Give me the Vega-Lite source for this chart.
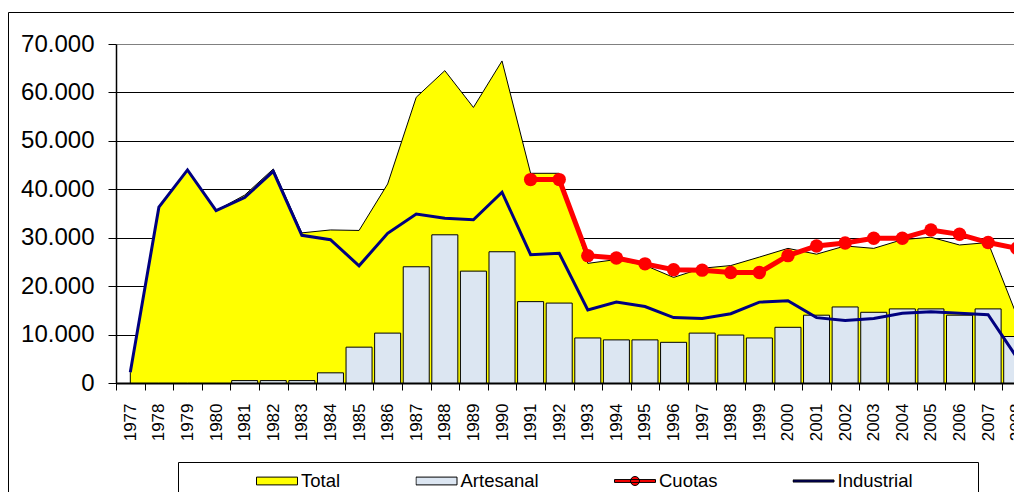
{
  "$schema": "https://vega.github.io/schema/vega-lite/v6.json",
  "autosize": {"type": "none"},
  "padding": {"left": 8, "top": 12, "right": -6, "bottom": -6},
  "width": 1012,
  "height": 486,
  "background": "white",
  "config": {
    "view": {"stroke": "black", "strokeWidth": 1},
    "font": "Liberation Sans"
  },
  "data": {
    "values": [
      {"year": 1977, "total": 2200, "art": null, "ind": 2200, "cuota": null},
      {"year": 1978, "total": 36300, "art": null, "ind": 36300, "cuota": null},
      {"year": 1979, "total": 44000, "art": null, "ind": 44000, "cuota": null},
      {"year": 1980, "total": 35600, "art": null, "ind": 35600, "cuota": null},
      {"year": 1981, "total": 38800, "art": 500, "ind": 38300, "cuota": null},
      {"year": 1982, "total": 44200, "art": 500, "ind": 43700, "cuota": null},
      {"year": 1983, "total": 31000, "art": 500, "ind": 30500, "cuota": null},
      {"year": 1984, "total": 31600, "art": 2100, "ind": 29600, "cuota": null},
      {"year": 1985, "total": 31500, "art": 7400, "ind": 24200, "cuota": null},
      {"year": 1986, "total": 41100, "art": 10300, "ind": 30900, "cuota": null},
      {"year": 1987, "total": 59000, "art": 24000, "ind": 34900, "cuota": null},
      {"year": 1988, "total": 64500, "art": 30600, "ind": 34000, "cuota": null},
      {"year": 1989, "total": 56900, "art": 23100, "ind": 33700, "cuota": null},
      {"year": 1990, "total": 66500, "art": 27100, "ind": 39400, "cuota": null},
      {"year": 1991, "total": 43300, "art": 16800, "ind": 26500, "cuota": 42000},
      {"year": 1992, "total": 43300, "art": 16500, "ind": 26800, "cuota": 42000},
      {"year": 1993, "total": 24700, "art": 9300, "ind": 15100, "cuota": 26300},
      {"year": 1994, "total": 25500, "art": 8900, "ind": 16700, "cuota": 25800},
      {"year": 1995, "total": 24300, "art": 8900, "ind": 15800, "cuota": 24600},
      {"year": 1996, "total": 21800, "art": 8400, "ind": 13500, "cuota": 23400},
      {"year": 1997, "total": 23700, "art": 10300, "ind": 13300, "cuota": 23300},
      {"year": 1998, "total": 24250, "art": 9900, "ind": 14300, "cuota": 22800},
      {"year": 1999, "total": 26000, "art": 9300, "ind": 16700, "cuota": 22800},
      {"year": 2000, "total": 27800, "art": 11500, "ind": 17000, "cuota": 26300},
      {"year": 2001, "total": 26600, "art": 14000, "ind": 13500, "cuota": 28300},
      {"year": 2002, "total": 28300, "art": 15700, "ind": 12900, "cuota": 28900},
      {"year": 2003, "total": 27800, "art": 14600, "ind": 13300, "cuota": 29900},
      {"year": 2004, "total": 29600, "art": 15300, "ind": 14400, "cuota": 29900},
      {"year": 2005, "total": 30100, "art": 15300, "ind": 14700, "cuota": 31600},
      {"year": 2006, "total": 28500, "art": 14000, "ind": 14400, "cuota": 30700},
      {"year": 2007, "total": 29000, "art": 15300, "ind": 14100, "cuota": 29000},
      {"year": 2008, "total": 14000, "art": 9600, "ind": 5300, "cuota": 27800}
    ]
  },
  "encoding": {
    "x": {
      "field": "year",
      "type": "ordinal",
      "scale": {"type": "band", "range": [108, 1023], "paddingInner": 0, "paddingOuter": 0},
      "axis": {
        "title": null,
        "offset": -115,
        "grid": false,
        "domainColor": "black",
        "domainWidth": 2,
        "tickColor": "black",
        "tickWidth": 1,
        "tickSize": 7,
        "tickBand": "extent",
        "labelAngle": 270,
        "labelFont": "Liberation Sans",
        "labelFontSize": 17,
        "labelColor": "black",
        "labelPadding": 13,
        "labelOverlap": false,
        "labelBound": false,
        "labelFlush": false
      }
    }
  },
  "layer": [
    {
      "mark": {"type": "area", "stroke": "black", "strokeWidth": 1, "opacity": 1},
      "encoding": {
        "y": {
          "field": "total",
          "type": "quantitative",
          "stack": null,
          "scale": {"domain": [0, 70000], "range": [371, 32], "nice": false, "zero": true},
          "axis": {
            "title": null,
            "offset": -108,
            "values": [0, 10000, 20000, 30000, 40000, 50000, 60000, 70000],
            "labelExpr": "replace(format(datum.value, ','), ',', '.')",
            "labelFont": "Liberation Sans",
            "labelFontSize": 24,
            "labelColor": "black",
            "labelPadding": 14,
            "tickSize": 8,
            "tickColor": "black",
            "domainColor": "black",
            "domainWidth": 1.5,
            "grid": true,
            "gridColor": {"condition": {"test": "datum.value === 70000", "value": "#808080"}, "value": "#000000"},
            "gridWidth": 1,
            "gridOpacity": 1
          }
        },
        "color": {
          "datum": "Total",
          "scale": {
            "domain": ["Total", "Artesanal", "Cuotas", "Industrial"],
            "range": ["#FFFF00", "#DCE6F2", "#FF0000", "#000080"]
          },
          "legend": {
            "orient": "none",
            "legendX": 170,
            "legendY": 450,
            "direction": "horizontal",
            "title": "\u00a0",
            "titleOrient": "left",
            "titleFontSize": 18,
            "titleColor": "black",
            "titlePadding": 69,
            "padding": 9,
            "strokeColor": "black",
            "fillColor": "white",
            "columnPadding": 74.5,
            "symbolSize": 1681,
            "symbolStrokeWidth": 1,
            "symbolType": {"expr": "datum.value === 'Cuotas' ? 'M-1,-0.07H1V0.07H-1ZM-0.22,0A0.22,0.22,0,1,1,0.22,0A0.22,0.22,0,1,1,-0.22,0Z' : datum.value === 'Industrial' ? 'M-1,-0.05H1V0.05H-1Z' : 'M-1,-0.19H1V0.19H-1Z'"},
            "clipHeight": 20,
            "labelFont": "Liberation Sans",
            "labelFontSize": 18.5,
            "labelColor": "black",
            "labelOffset": 3,
            "labelLimit": 220,
            "labelExpr": "datum.label === 'Industrial' ? 'Industrial\u2800\u2800\u2800\u2800' : datum.label",
            "encode": {
              "symbols": {
                "stroke": {"value": {"expr": "(datum.value === 'Total' || datum.value === 'Artesanal') ? 'black' : scale('color', datum.value)"}},
                "opacity": {"value": 1},
                "fillOpacity": {"value": 1}
              }
            }
          }
        }
      }
    },
    {
      "mark": {"type": "bar", "fill": "#DCE6F2", "stroke": "black", "strokeWidth": 1, "width": {"band": 0.91}, "opacity": 1},
      "encoding": {
        "y": {"field": "art", "type": "quantitative", "stack": null}
      }
    },
    {
      "mark": {"type": "line", "stroke": "#000080", "strokeWidth": 3},
      "encoding": {
        "y": {"field": "ind", "type": "quantitative"}
      }
    },
    {
      "mark": {"type": "line", "stroke": "#FF0000", "strokeWidth": 5, "point": {"filled": true, "size": 180, "opacity": 1, "fill": "#FF0000"}},
      "encoding": {
        "y": {"field": "cuota", "type": "quantitative"}
      }
    }
  ]
}
